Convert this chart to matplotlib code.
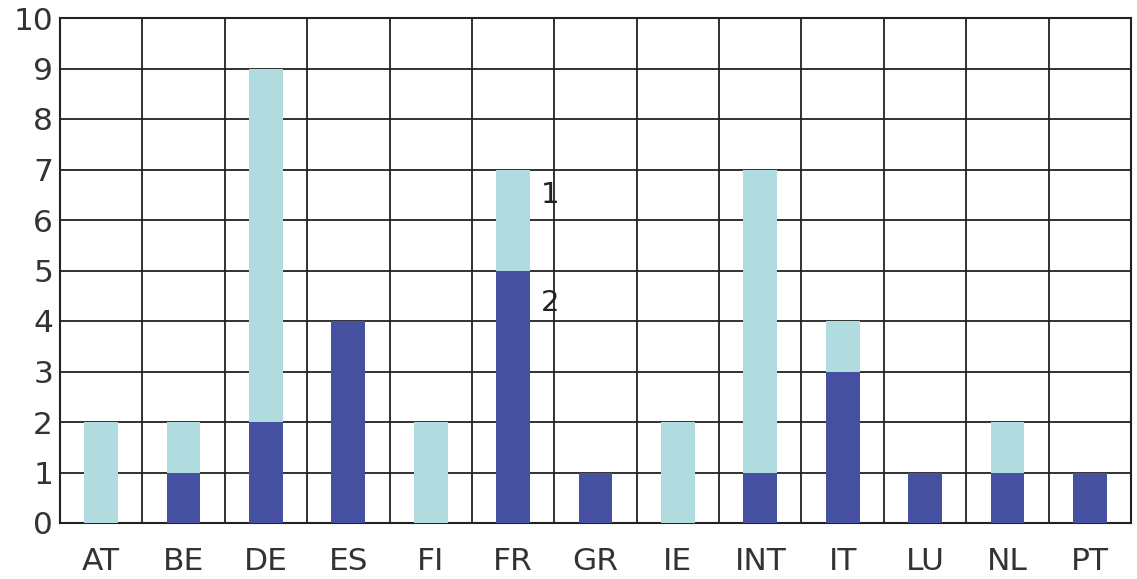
import matplotlib
matplotlib.use("Agg")
import matplotlib.pyplot as plt

countries = ["AT", "BE", "DE", "ES", "FI", "FR", "GR", "IE", "INT", "IT", "LU", "NL", "PT"]
series_2 = [0, 1, 2, 4, 0, 5, 1, 0, 1, 3, 1, 1, 1]
series_1 = [2, 1, 7, 0, 2, 2, 0, 2, 6, 1, 0, 1, 0]

dark = "#4650a0"
light = "#b0dce0"

fig = plt.figure(figsize=(11.37, 5.79), dpi=100)
ax = fig.add_axes([60 / 1137, 1 - 523 / 579, 1071 / 1137, 505 / 579])

x = range(len(countries))
ax.bar(x, series_2, width=0.41, color=dark, zorder=3)
ax.bar(x, series_1, width=0.41, bottom=series_2, color=light, zorder=3)

# grid: horizontal at integers, vertical between categories
for yv in range(0, 11):
    ax.axhline(yv, color="#222222", lw=1.3, zorder=1)
for i in range(len(countries) - 1):
    ax.axvline(i + 0.5, color="#222222", lw=1.3, zorder=1)

ax.text(5 + 0.34, 6.5, "1", fontsize=21, color="#222222", va="center", ha="left")
ax.text(5 + 0.34, 4.35, "2", fontsize=21, color="#222222", va="center", ha="left")

ax.set_xlim(-0.5, len(countries) - 0.5)
ax.set_ylim(0, 10)
ax.set_yticks(range(0, 11))
ax.set_xticks(list(x))
ax.set_xticklabels(countries)
ax.tick_params(length=0, labelsize=22.5, colors="#333333", pad=5)
ax.tick_params(axis="x", pad=17)
for s in ax.spines.values():
    s.set_color("#222222")
    s.set_linewidth(1.5)

fig.savefig("out.png", dpi=100)
